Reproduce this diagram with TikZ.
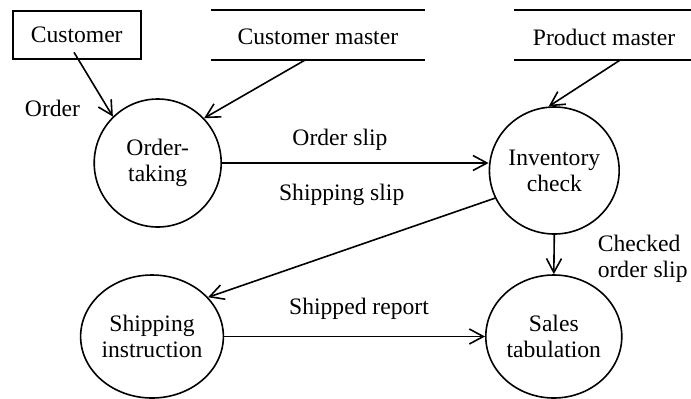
\documentclass[tikz,border=0pt]{standalone}
\usepackage{fontspec}
\setmainfont{Liberation Serif}
\usetikzlibrary{shapes.geometric,arrows.meta}
\begin{document}
\begin{tikzpicture}[x=0.5pt,y=-0.5pt,line width=0.8pt,
  font=\fontsize{11.8}{13}\selectfont,
  process/.style={ellipse,draw,inner sep=0pt,align=center},
  entity/.style={rectangle,draw,inner sep=0pt,minimum width=64pt,minimum height=24.15pt},
  store/.style={inner sep=0pt,minimum height=24.15pt},
  flow/.style={-{Straight Barb[length=7pt,width=7.5pt]}},
  lbl/.style={inner sep=0pt,align=left}]
\useasboundingbox (0,0) rectangle (691,398);

% external entity
\node[entity] (cust) at (76.7,34.85) {Customer};

% data stores
\node[store,minimum width=106.2pt] (cm) at (317.8,34.85) {};
\node[lbl] (cmtext) at (317.8,37) {Customer master};
\draw (cm.north west) -- (cm.north east) (cm.south west) -- (cm.south east);
\node[store,minimum width=88pt] (pm) at (603,34.85) {};
\node[lbl] (pmtext) at (604,37) {Product master};
\draw (pm.north west) -- (pm.north east) (pm.south west) -- (pm.south east);

% processes
\node[process,minimum width=63.5pt,minimum height=64pt] (ot) at (157.7,163) {Order-\\taking};
\node[process,minimum width=63.5pt,minimum height=63.5pt] (inv) at (554.3,170.5) {Inventory\\check};
\node[process,minimum width=61.3pt,minimum height=61.5pt] (ship) at (152,336.5) {Shipping\\instruction};
\node[process,minimum width=68pt,minimum height=61.5pt] (sales) at (553.8,336.5) {Sales\\tabulation};

% flow start points
\coordinate (custout) at (74,52.3);
\coordinate (cmout) at (306,59.5);
\coordinate (pmout) at (621,59.5);

% data flows
\draw[flow] (custout) -- (ot.134);
\draw[flow] (cmout) -- (ot.44);
\draw[flow] (pmout) -- (inv.95);
\draw[flow] (ot.east) -- (ot.east -| inv.west);
\draw[flow] (inv.205) -- (ship.35);
\draw[flow] (inv.south) -- (sales.north);
\draw[flow] (ship.east) -- (sales.west);

% flow labels
\node[lbl] (lorder) at (52.5,108) {Order};
\node[lbl] (lslip) at (340,140) {Order slip};
\node[lbl] (lship) at (341.7,194.7) {Shipping slip};
\node[lbl,anchor=west] (lcheck) at (597,259) {Checked\\order slip};
\node[lbl] (lrep) at (359,309.3) {Shipped report};
\end{tikzpicture}
\end{document}
